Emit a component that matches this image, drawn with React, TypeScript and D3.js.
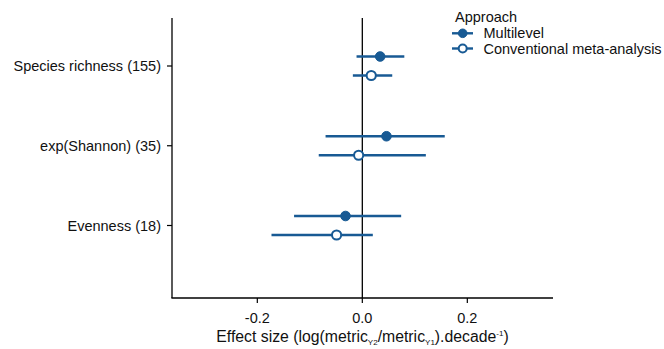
import React from "react";
import * as d3 from "d3";

const categories = ["Species richness (155)", "exp(Shannon) (35)", "Evenness (18)"];
const approaches = ["Multilevel", "Conventional meta-analysis"];
const multilevelEst = [0.034, 0.046, -0.032];
const multilevelLo = [-0.011, -0.07, -0.13];
const multilevelHi = [0.08, 0.157, 0.074];
const conventionalEst = [0.017, -0.007, -0.049];
const conventionalLo = [-0.018, -0.083, -0.173];
const conventionalHi = [0.057, 0.121, 0.02];
const xTicks = [-0.2, 0, 0.2];
const xTickLabels = ["-0.2", "0.0", "0.2"];

const W = 664, H = 349;
const left = 172, right = 553, top = 18, bottom = 298;
const blue = "#185a94";
const font = "Liberation Sans, Arial, sans-serif";
const fs = 14.5;

export default function App() {
  const x = d3.scaleLinear().domain([-0.3625, 0.3632]).range([left, right]);
  const y = d3.scalePoint<string>().domain(categories).range([66, 225.5]);
  const dodge = 9.5;
  const series = [
    { name: approaches[0], est: multilevelEst, lo: multilevelLo, hi: multilevelHi, off: -dodge, filled: true },
    { name: approaches[1], est: conventionalEst, lo: conventionalLo, hi: conventionalHi, off: dodge, filled: false },
  ];
  return (
    <svg width={W} height={H} style={{ position: "absolute", left: 0, top: 0, background: "#fff" }} fontFamily={font}>
      <rect width={W} height={H} fill="#fff" />
      <line x1={x(0)} x2={x(0)} y1={top} y2={bottom} stroke="#000" strokeWidth={1.3} />
      {series.map((s) =>
        categories.map((c, i) => {
          const yy = (y(c) as number) + s.off;
          return (
            <g key={s.name + c}>
              <line x1={x(s.lo[i])} x2={x(s.hi[i])} y1={yy} y2={yy} stroke={blue} strokeWidth={2.4} />
              <circle cx={x(s.est[i])} cy={yy} r={s.filled ? 4.8 : 4.6} fill={s.filled ? blue : "#fff"} stroke={blue} strokeWidth={s.filled ? 1 : 2} />
            </g>
          );
        })
      )}
      <line x1={left} x2={left} y1={top} y2={bottom} stroke="#000" strokeWidth={1.3} />
      <line x1={left - 0.6} x2={right} y1={bottom} y2={bottom} stroke="#000" strokeWidth={1.3} />
      {categories.map((c) => (
        <g key={c}>
          <line x1={left - 5} x2={left} y1={y(c)} y2={y(c)} stroke="#000" strokeWidth={1.2} />
          <text x={161} y={(y(c) as number) + 5} textAnchor="end" fontSize={fs} fill="#111">{c}</text>
        </g>
      ))}
      {xTicks.map((t, i) => (
        <g key={t}>
          <line x1={x(t)} x2={x(t)} y1={bottom} y2={bottom + 5} stroke="#000" strokeWidth={1.2} />
          <text x={x(t)} y={323} textAnchor="middle" fontSize={fs} fill="#111">{xTickLabels[i]}</text>
        </g>
      ))}
      <text x={(left + right) / 2} y={342} textAnchor="middle" fontSize={15.8} fill="#111">
        <tspan>Effect size (log(metric</tspan>
        <tspan fontSize={8} dy={3}>Y2</tspan>
        <tspan dy={-3}>/metric</tspan>
        <tspan fontSize={8} dy={3}>Y1</tspan>
        <tspan dy={-3}>).decade</tspan>
        <tspan fontSize={8} dy={-6}>-1</tspan>
        <tspan dy={6}>)</tspan>
      </text>
      <text x={455} y={21.5} fontSize={fs} fill="#111">Approach</text>
      {series.map((s, i) => {
        const ly = 33.3 + i * 15.2;
        return (
          <g key={s.name}>
            <line x1={452} x2={473} y1={ly} y2={ly} stroke={blue} strokeWidth={2.4} />
            <circle cx={462.7} cy={ly} r={s.filled ? 4.3 : 4} fill={s.filled ? blue : "#fff"} stroke={blue} strokeWidth={s.filled ? 1 : 2} />
            <text x={483.5} y={ly + 5} fontSize={fs} fill="#111">{s.name}</text>
          </g>
        );
      })}
    </svg>
  );
}
